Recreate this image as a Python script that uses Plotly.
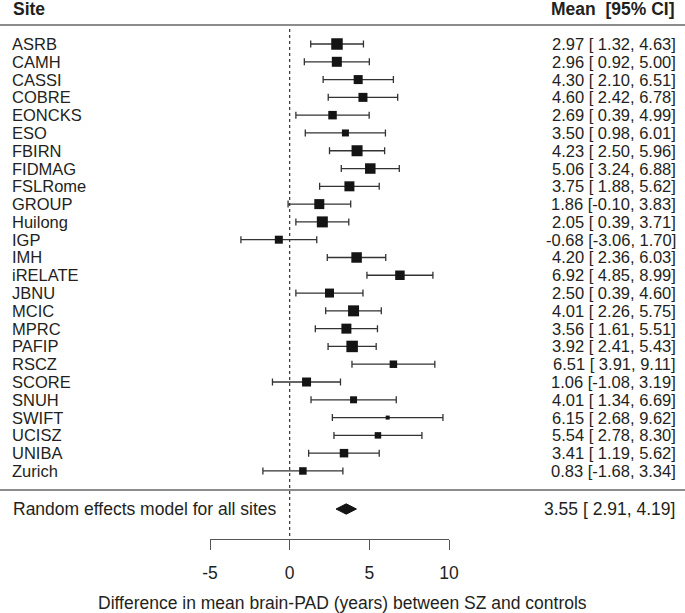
import plotly.graph_objects as go

sites = ["ASRB", "CAMH", "CASSI", "COBRE", "EONCKS", "ESO", "FBIRN", "FIDMAG",
         "FSLRome", "GROUP", "Huilong", "IGP", "IMH", "iRELATE", "JBNU", "MCIC",
         "MPRC", "PAFIP", "RSCZ", "SCORE", "SNUH", "SWIFT", "UCISZ", "UNIBA", "Zurich"]
means = [2.97, 2.96, 4.30, 4.60, 2.69, 3.50, 4.23, 5.06, 3.75, 1.86, 2.05, -0.68,
         4.20, 6.92, 2.50, 4.01, 3.56, 3.92, 6.51, 1.06, 4.01, 6.15, 5.54, 3.41, 0.83]
lower = [1.32, 0.92, 2.10, 2.42, 0.39, 0.98, 2.50, 3.24, 1.88, -0.10, 0.39, -3.06,
         2.36, 4.85, 0.39, 2.26, 1.61, 2.41, 3.91, -1.08, 1.34, 2.68, 2.78, 1.19, -1.68]
upper = [4.63, 5.00, 6.51, 6.78, 4.99, 6.01, 5.96, 6.88, 5.62, 3.83, 3.71, 1.70,
         6.03, 8.99, 4.60, 5.75, 5.51, 5.43, 9.11, 3.19, 6.69, 9.62, 8.30, 5.62, 3.34]
# relative study weights
weights = [11.5, 10, 9, 9, 8.5, 7, 11, 10.5, 10, 10, 11, 8,
           10.5, 9.5, 9, 11, 10, 11.5, 7.5, 9, 7, 4, 6.5, 8.5, 7.5]
pooled_label = "Random effects model for all sites"
pooled_mean, pooled_lo, pooled_hi = 3.55, 2.91, 4.19
x_ticks = [-5, 0, 5, 10]
x_title = "Difference in mean brain-PAD (years) between SZ and controls"

FONT = "Liberation Sans, Arial, Helvetica, sans-serif"
TXT = "#231f20"
LINE = "#555555"
FS = 16.5
FS_BIG = 17.5

# geometry helpers
W, H = 685, 613
L_MARGIN, R_MARGIN, B_MARGIN = 210, 236, 74
plot_w = W - L_MARGIN - R_MARGIN
plot_h = H - B_MARGIN
row0_px, row_step = 44, 17.79


def px_to_paper_x(px):
    return (px - L_MARGIN) / plot_w


def px_to_row(py):
    return (py - row0_px) / row_step


rows = list(range(len(sites)))

fig = go.Figure()

fig.add_trace(go.Scatter(
    x=means, y=rows, mode="markers",
    marker=dict(symbol="square", size=weights, color="#141414", opacity=1,
                line=dict(width=0)),
    error_x=dict(type="data", symmetric=False,
                 array=[u - m for u, m in zip(upper, means)],
                 arrayminus=[m - l for m, l in zip(means, lower)],
                 color="#333333", thickness=1.3, width=3.5),
    showlegend=False, hoverinfo="skip",
))

# pooled diamond
yd = px_to_row(509)
hh = 0.29
fig.add_trace(go.Scatter(
    x=[pooled_lo, pooled_mean, pooled_hi, pooled_mean, pooled_lo],
    y=[yd, yd - hh, yd, yd + hh, yd],
    mode="lines", fill="toself", fillcolor="#141414",
    line=dict(color="#141414", width=1), showlegend=False, hoverinfo="skip",
))

shapes = [
    dict(type="line", xref="x", yref="y", x0=0, x1=0,
         y0=px_to_row(29), y1=px_to_row(539),
         line=dict(color="#333333", width=1.2, dash="dot")),
    dict(type="line", xref="paper", yref="y", x0=px_to_paper_x(0), x1=px_to_paper_x(685),
         y0=px_to_row(25), y1=px_to_row(25), line=dict(color="#666666", width=1.6)),
    dict(type="line", xref="paper", yref="y", x0=px_to_paper_x(0), x1=px_to_paper_x(685),
         y0=px_to_row(490), y1=px_to_row(490), line=dict(color="#666666", width=1.6)),
]

ann = []
fnt = dict(family=FONT, size=FS, color=TXT)
fnt_big = dict(family=FONT, size=FS_BIG, color=TXT)
ann.append(dict(text="<b>Site</b>", xref="paper", yref="y", x=px_to_paper_x(11),
                y=px_to_row(9), xanchor="left", yanchor="middle", showarrow=False,
                font=fnt_big))
ann.append(dict(text="<b>Mean\u00a0\u00a0[95% CI]</b>", xref="paper", yref="y",
                x=px_to_paper_x(677), y=px_to_row(9), xanchor="right", yanchor="middle",
                showarrow=False, font=fnt_big))
for r, s, m, lo, hi in zip(rows, sites, means, lower, upper):
    ann.append(dict(text=s, xref="paper", yref="y", x=px_to_paper_x(11), y=r,
                    xanchor="left", yanchor="middle", showarrow=False, font=fnt,
                    borderpad=0))
    lo_s = f"{lo:.2f}" if lo < 0 else f"\u00a0{lo:.2f}"
    ann.append(dict(text=f"{m:.2f} [{lo_s}, {hi:.2f}]", xref="paper", yref="y",
                    x=px_to_paper_x(677), y=r, xanchor="right", yanchor="middle",
                    showarrow=False, font=fnt, borderpad=0))
ann.append(dict(text=pooled_label, xref="paper", yref="y", x=px_to_paper_x(11), y=yd,
                xanchor="left", yanchor="middle", showarrow=False, font=fnt_big))
ann.append(dict(text=f"{pooled_mean:.2f} [\u00a0{pooled_lo:.2f}, {pooled_hi:.2f}]",
                xref="paper", yref="y", x=px_to_paper_x(677), y=yd,
                xanchor="right", yanchor="middle", showarrow=False, font=fnt_big))
ann.append(dict(text=x_title, xref="paper", yref="paper", x=px_to_paper_x(342),
                y=(plot_h - 603) / plot_h, xanchor="center", yanchor="middle",
                showarrow=False, font=fnt_big))

fig.update_layout(
    width=W, height=H,
    margin=dict(l=L_MARGIN, r=R_MARGIN, t=0, b=B_MARGIN),
    paper_bgcolor="white", plot_bgcolor="white",
    shapes=shapes, annotations=ann,
    xaxis=dict(range=[-5, 10], tickvals=x_ticks, ticktext=[str(t) for t in x_ticks],
               showgrid=False, zeroline=False, showline=True, linecolor=LINE, linewidth=1.3,
               ticks="outside", ticklen=10, tickwidth=1.3, tickcolor=LINE,
               ticklabelstandoff=8,
               tickfont=dict(family=FONT, size=FS_BIG, color=TXT), fixedrange=True),
    yaxis=dict(range=[px_to_row(539), px_to_row(0)], visible=False, fixedrange=True),
)

fig.write_html("out.html", config={"displayModeBar": False},
               post_script="document.body.style.margin='0';document.body.style.padding='0';")
